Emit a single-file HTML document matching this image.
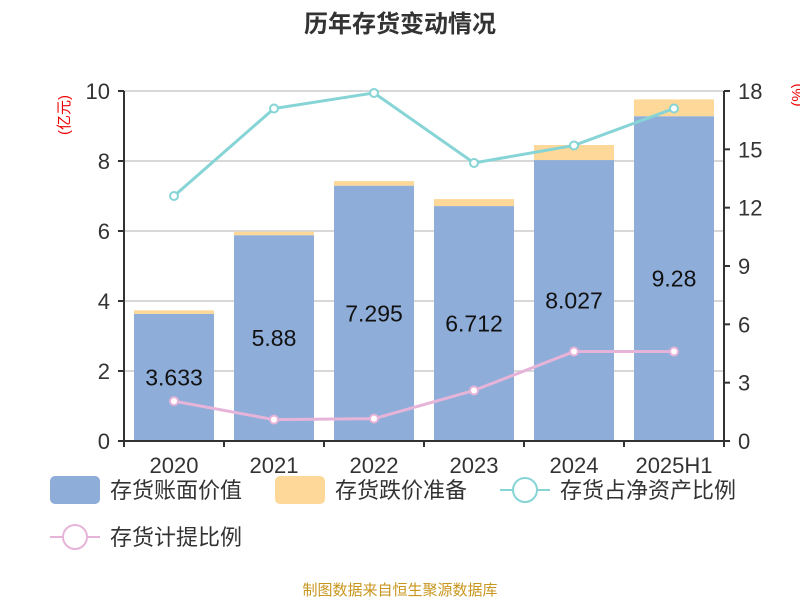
<!DOCTYPE html>
<html><head><meta charset="utf-8"><style>
body{margin:0;background:#fff;font-family:"Liberation Sans","Noto Sans CJK SC",sans-serif}
</style></head><body>
<svg width="800" height="600" xmlns="http://www.w3.org/2000/svg" font-family="Liberation Sans, Noto Sans CJK SC, sans-serif">
<text x="400" y="32" text-anchor="middle" font-size="24" font-weight="bold" fill="#333">历年存货变动情况</text>
<text transform="translate(69,115) rotate(-90)" text-anchor="middle" font-size="15" fill="#e00">(亿元)</text>
<text transform="translate(802,95) rotate(-90)" text-anchor="middle" font-size="15" fill="#e00">(%)</text>
<g id="grid"></g><g id="bars"></g><g id="lines"></g><g id="axes"></g>
<g font-size="22" fill="#333">
<rect x="50" y="476" width="50" height="28" rx="5" fill="#8eadd9"/>
<text x="110" y="498">存货账面价值</text>
<rect x="275" y="476" width="50" height="28" rx="5" fill="#fdd898"/>
<text x="335" y="498">存货跌价准备</text>
<line x1="500" y1="490" x2="550" y2="490" stroke="#86d4d6" stroke-width="2"/>
<circle cx="525" cy="490" r="12" fill="#fff" stroke="#86d4d6" stroke-width="2"/>
<text x="560" y="498">存货占净资产比例</text>
<line x1="50" y1="537" x2="100" y2="537" stroke="#e6b4d8" stroke-width="2"/>
<circle cx="75" cy="537" r="12" fill="#fff" stroke="#e6b4d8" stroke-width="2"/>
<text x="110" y="545">存货计提比例</text>
</g>
<text x="400" y="595" text-anchor="middle" font-size="15" fill="#c8961e">制图数据来自恒生聚源数据库</text>
</svg>
<script>
const categories=["2020","2021","2022","2023","2024","2025H1"];
const bookValue=[3.633,5.88,7.295,6.712,8.027,9.28];
const reserve=[0.1,0.1,0.13,0.2,0.43,0.48];
const netAssetRatio=[12.6,17.1,17.9,14.3,15.2,17.1];
const provisionRatio=[2.05,1.1,1.15,2.6,4.6,4.6];
const leftTicks=[0,2,4,6,8,10];
const rightTicks=[0,3,6,9,12,15,18];
const NS="http://www.w3.org/2000/svg";
const X0=124,X1=724,Y0=441,Y1=91,bw=100;
const yL=v=>Y0-(v/10)*(Y0-Y1);
const yR=v=>Y0-(v/18)*(Y0-Y1);
const xc=i=>X0+bw*(i+0.5);
function mk(tag,attrs,parent,txt){const e=document.createElementNS(NS,tag);for(const k in attrs)e.setAttribute(k,attrs[k]);if(txt!==undefined)e.textContent=txt;document.getElementById(parent).appendChild(e);return e;}
leftTicks.forEach(t=>{const g=mk('line',{x1:X0,x2:X1,y1:yL(t),y2:yL(t),stroke:'#ccc','stroke-width':1.5},'grid');


const l=mk('text',{x:X0-14,y:yL(t)+8,'text-anchor':'end','font-size':22,fill:'#333'},'axes',t);


mk('line',{x1:X0-6,x2:X0,y1:yL(t),y2:yL(t),stroke:'#333','stroke-width':2},'axes');});
rightTicks.forEach(t=>{const l=mk('text',{x:X1+14,y:yR(t)+8,'font-size':22,fill:'#333'},'axes',t);


mk('line',{x1:X1,x2:X1+6,y1:yR(t),y2:yR(t),stroke:'#333','stroke-width':2},'axes');});
mk('line',{x1:X0,x2:X0,y1:Y1,y2:Y0,stroke:'#333','stroke-width':2},'axes');
mk('line',{x1:X1,x2:X1,y1:Y1,y2:Y0,stroke:'#333','stroke-width':2},'axes');
mk('line',{x1:X0,x2:X1,y1:Y0,y2:Y0,stroke:'#333','stroke-width':2},'axes');
categories.forEach((c,i)=>{
const x=xc(i)-40;
const b=mk('rect',{x:x,y:yL(bookValue[i]),width:80,height:Y0-yL(bookValue[i]),fill:'#8eadd9'},'bars');


const r=mk('rect',{x:x,y:yL(bookValue[i]+reserve[i]),width:80,height:yL(bookValue[i])-yL(bookValue[i]+reserve[i]),fill:'#fdd898'},'bars');


const v=mk('text',{x:xc(i),y:yL(bookValue[i]/2)+8,'text-anchor':'middle','font-size':23,fill:'#111'},'bars',bookValue[i]);


const cl=mk('text',{x:xc(i),y:473,'text-anchor':'middle','font-size':22,fill:'#333'},'axes',c);


mk('line',{x1:X0+bw*i,x2:X0+bw*i,y1:Y0,y2:Y0+6,stroke:'#333','stroke-width':2},'axes');
});
mk('line',{x1:X1,x2:X1,y1:Y0,y2:Y0+6,stroke:'#333','stroke-width':2},'axes');
function series(vals,color,name){
const p=mk('polyline',{points:vals.map((v,i)=>xc(i)+','+yR(v)).join(' '),fill:'none',stroke:color,'stroke-width':3},'lines');


vals.forEach((v,i)=>{const c=mk('circle',{cx:xc(i),cy:yR(v),r:4,fill:'#fff',stroke:color,'stroke-width':2},'lines');

});
}
series(netAssetRatio,'#86d4d6','net-asset-ratio');
series(provisionRatio,'#e6b4d8','provision-ratio');
</script>
</body></html>
